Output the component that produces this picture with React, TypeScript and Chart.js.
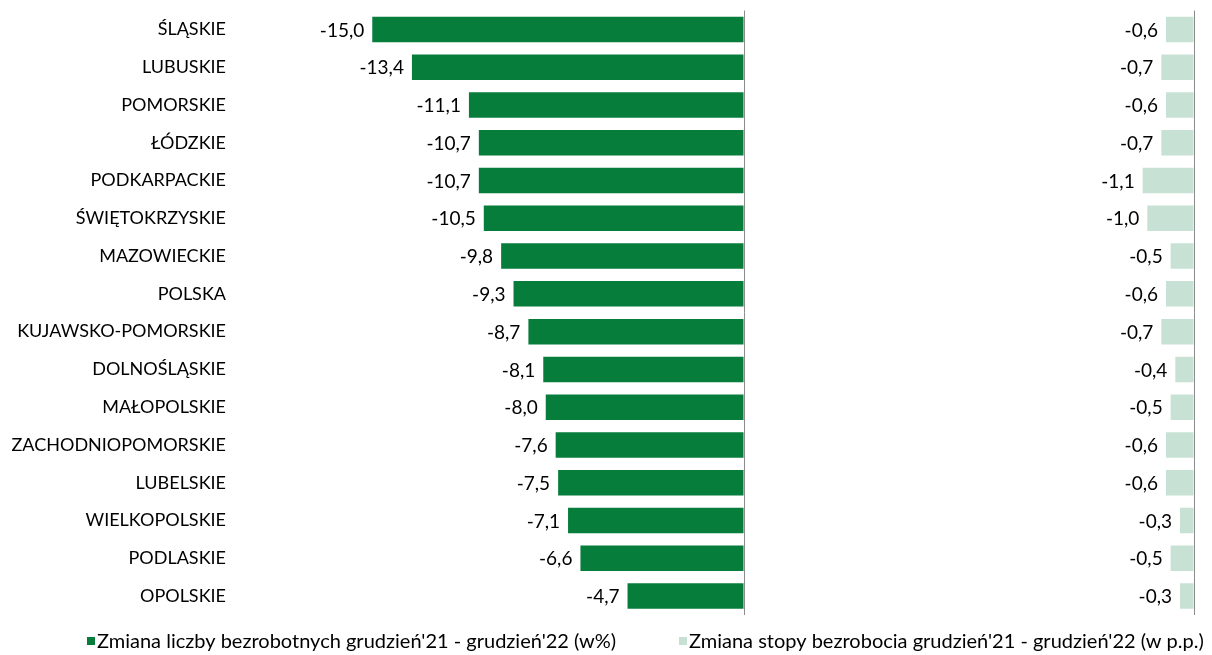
import React, { useEffect, useRef } from "react";
import { Chart, registerables } from "chart.js";

Chart.register(...registerables);

const categories = [
  "ŚLĄSKIE",
  "LUBUSKIE",
  "POMORSKIE",
  "ŁÓDZKIE",
  "PODKARPACKIE",
  "ŚWIĘTOKRZYSKIE",
  "MAZOWIECKIE",
  "POLSKA",
  "KUJAWSKO-POMORSKIE",
  "DOLNOŚLĄSKIE",
  "MAŁOPOLSKIE",
  "ZACHODNIOPOMORSKIE",
  "LUBELSKIE",
  "WIELKOPOLSKIE",
  "PODLASKIE",
  "OPOLSKIE",
];

const unemployedChange = [-15.0, -13.4, -11.1, -10.7, -10.7, -10.5, -9.8, -9.3, -8.7, -8.1, -8.0, -7.6, -7.5, -7.1, -6.6, -4.7];
const rateChange = [-0.6, -0.7, -0.6, -0.7, -1.1, -1.0, -0.5, -0.6, -0.7, -0.4, -0.5, -0.6, -0.6, -0.3, -0.5, -0.3];

const seriesLabels = [
  "Zmiana liczby bezrobotnych grudzień'21 - grudzień'22 (w%)",
  "Zmiana stopy bezrobocia grudzień'21 - grudzień'22 (w p.p.)",
];

const DARK = "#077D3C";
const LIGHT = "#C7E2D4";
const FONT = "Lato, 'Open Sans', sans-serif";

const fmt = (v: number) => v.toFixed(1).replace(".", ",");

const valueLabels = {
  id: "valueLabels",
  afterDatasetsDraw(chart: any) {
    const ctx = chart.ctx;
    ctx.save();
    ctx.font = `19px ${FONT}`;
    ctx.fillStyle = "#000";
    ctx.textAlign = "right";
    ctx.textBaseline = "middle";
    chart.data.datasets.forEach((ds: any, di: number) => {
      const meta = chart.getDatasetMeta(di);
      meta.data.forEach((el: any, i: number) => {
        const v = ds.data[i] as number;
        ctx.fillText(fmt(v), el.x - 8, el.y + 1);
      });
    });
    ctx.restore();
  },
};

const customLegend = {
  id: "customLegend",
  afterDraw(chart: any) {
    const ctx = chart.ctx;
    const xs = [87, 679];
    const y = 641;
    ctx.save();
    ctx.font = `20px ${FONT}`;
    ctx.textAlign = "left";
    ctx.textBaseline = "middle";
    chart.data.datasets.forEach((ds: any, i: number) => {
      ctx.fillStyle = ds.backgroundColor;
      ctx.fillRect(xs[i], y - 4, 8, 8);
      ctx.fillStyle = "#000";
      ctx.fillText(ds.label, xs[i] + 10, y + 1);
    });
    ctx.restore();
  },
};

const zeroGrid = (ctx: any) => (ctx.tick && ctx.tick.value === 0 ? "#8C8C8C" : "rgba(0,0,0,0)");

export default function App() {
  const ref = useRef<HTMLCanvasElement>(null);

  useEffect(() => {
    document.body.style.margin = "0";
    const chart = new Chart(ref.current!, {
      type: "bar",
      data: {
        labels: categories,
        datasets: [
          {
            label: seriesLabels[0],
            data: unemployedChange,
            backgroundColor: DARK,
            xAxisID: "x1",
            grouped: false,
            categoryPercentage: 1,
            barPercentage: 0.675,
          },
          {
            label: seriesLabels[1],
            data: rateChange,
            backgroundColor: LIGHT,
            xAxisID: "x2",
            grouped: false,
            categoryPercentage: 1,
            barPercentage: 0.675,
          },
        ],
      },
      options: {
        indexAxis: "y",
        animation: false,
        responsive: false,
        layout: { padding: { top: 10.5, right: 18, bottom: 40, left: 0 } },
        plugins: {
          legend: { display: false },
          tooltip: { enabled: false },
        },
        scales: {
          y: {
            position: "left",
            grid: { display: false, drawTicks: false },
            border: { display: false },
            ticks: { font: { family: FONT, size: 18 }, color: "#000", padding: 6 },
            afterFit: (s: any) => {
              s.width = 232;
              s.paddingTop = 0;
              s.paddingBottom = 0;
            },
          },
          x1: {
            position: "bottom",
            stack: "x",
            stackWeight: 512,
            weight: 1,
            min: -20.66,
            max: 0,
            ticks: { display: false },
            border: { display: false },
            grid: { color: zeroGrid, drawTicks: false, lineWidth: 1 },
          },
          x2: {
            position: "bottom",
            stack: "x",
            stackWeight: 450,
            weight: 2,
            min: -9.64,
            max: 0,
            ticks: { display: false },
            border: { display: false },
            grid: { color: zeroGrid, drawTicks: false, lineWidth: 1 },
          },
        },
      },
      plugins: [valueLabels, customLegend],
    } as any);
    return () => chart.destroy();
  }, []);

  return (
    <div style={{ width: 1212, height: 655 }}>
      <canvas ref={ref} width={1212} height={655} />
    </div>
  );
}
